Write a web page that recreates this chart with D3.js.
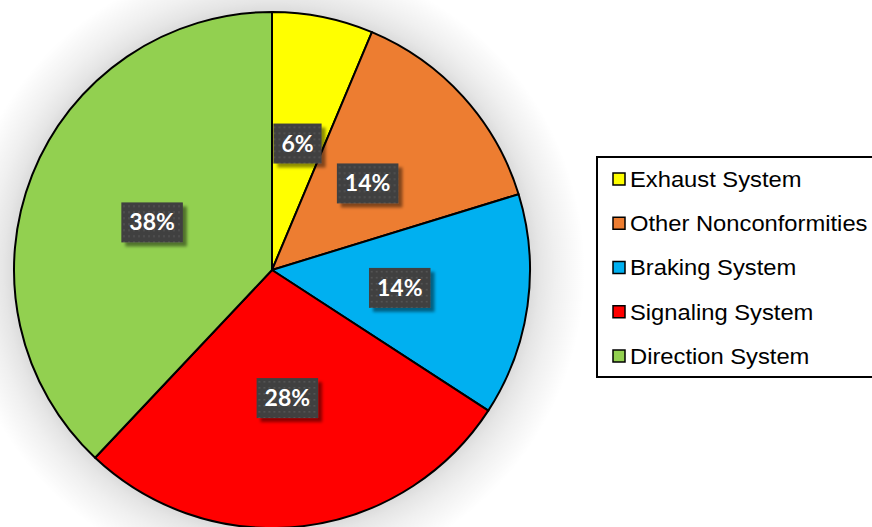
<!DOCTYPE html>
<html>
<head>
<meta charset="utf-8">
<script src="https://cdn.jsdelivr.net/npm/d3@7"></script>
<style>
  html, body { margin: 0; padding: 0; background: #fff; }
  svg { display: block; }
</style>
</head>
<body>
<svg id="chart" width="872" height="527"></svg>
<script>
// Nonconformity counts by vehicle system
const categories = ["Exhaust System", "Other Nonconformities", "Braking System", "Signaling System", "Direction System"];
const counts = [5, 11, 11, 22, 30];
const colors = ["#FFFF00", "#ED7D31", "#00B0F0", "#FF0000", "#92D050"];

const W = 872, H = 527;
const cx = 272, cy = 270, R = 258;
const haloR = R + 55;

const svg = d3.select("#chart");
const defs = svg.append("defs");

// soft halo behind the pie, as a radial fade
const grad = defs.append("radialGradient").attr("id", "haloGrad")
  .attr("gradientUnits", "userSpaceOnUse")
  .attr("cx", 0).attr("cy", 0).attr("r", haloR);
[
  [0, 0.15], [(R - 2) / haloR, 0.15], [(R + 10) / haloR, 0.1],
  [(R + 25) / haloR, 0.06], [(R + 40) / haloR, 0.03], [1, 0]
].forEach(([o, a]) => grad.append("stop")
  .attr("offset", o).attr("stop-color", "#000").attr("stop-opacity", a));

// drop shadow for the value boxes
const boxShadow = defs.append("filter").attr("id", "boxShadow")
  .attr("x", "-30%").attr("y", "-30%").attr("width", "160%").attr("height", "160%");
boxShadow.append("feDropShadow").attr("dx", 4).attr("dy", 4)
  .attr("stdDeviation", 1.5).attr("flood-color", "#000").attr("flood-opacity", 0.45);

// dotted texture for the value boxes
const pat = defs.append("pattern").attr("id", "dots")
  .attr("patternUnits", "userSpaceOnUse").attr("width", 5).attr("height", 6);
pat.append("rect").attr("width", 5).attr("height", 6).attr("fill", "#404040");
pat.append("rect").attr("x", 1).attr("y", 1).attr("width", 2).attr("height", 1.5).attr("fill", "#545454");

const total = d3.sum(counts);
const data = categories.map((c, i) => ({ name: c, value: counts[i], color: colors[i] }));

const pie = d3.pie().value(d => d.value).sort(null);
const arcs = pie(data);
const arc = d3.arc().innerRadius(0).outerRadius(R);
const labelArc = d3.arc().innerRadius(R * 0.5).outerRadius(R * 0.5);

const g = svg.append("g").attr("transform", `translate(${cx},${cy})`);

g.append("circle").attr("r", haloR).attr("fill", "url(#haloGrad)");

g.selectAll("path.slice").data(arcs).join("path")
  .attr("class", "slice")
  .attr("d", arc)
  .attr("fill", d => d.data.color)
  .attr("stroke", "#000")
  .attr("stroke-width", 2)
  .attr("stroke-linejoin", "round");

// value labels
const fmt = v => Math.round(v / total * 100) + "%";
const labels = g.selectAll("g.lbl").data(arcs).join("g")
  .attr("class", "lbl")
  .attr("transform", d => `translate(${labelArc.centroid(d)})`);

labels.each(function (d) {
  const sel = d3.select(this);
  const rect = sel.append("rect").attr("fill", "url(#dots)").attr("filter", "url(#boxShadow)");
  const t = sel.append("text")
    .attr("text-anchor", "middle")
    .attr("dy", "0.35em")
    .attr("fill", "#fff")
    .attr("font-family", "Lato, 'Open Sans', sans-serif")
    .attr("font-weight", "bold")
    .attr("font-size", 23)
    .text(fmt(d.data.value));
  const bb = t.node().getBBox();
  const w = bb.width + 16, h = 40;
  rect.attr("x", -w / 2).attr("y", -h / 2).attr("width", w).attr("height", h);
});

// legend
const lg = svg.append("g");
lg.append("rect").attr("x", 597).attr("y", 157).attr("width", 276).attr("height", 220)
  .attr("fill", "#fff").attr("stroke", "#000").attr("stroke-width", 2);

const ly = d3.scalePoint().domain(categories).range([179, 356]);
const items = lg.selectAll("g.item").data(data).join("g")
  .attr("class", "item")
  .attr("transform", d => `translate(0,${ly(d.name)})`);
items.append("rect").attr("x", 613).attr("y", -6).attr("width", 12).attr("height", 12)
  .attr("fill", d => d.color).attr("stroke", "#000").attr("stroke-width", 1.5);
items.append("text")
  .attr("transform", "translate(630,0) scale(1.08,1)")
  .attr("dy", "0.36em")
  .attr("font-family", "'Liberation Sans', Arial, sans-serif")
  .attr("font-size", 22).attr("fill", "#000")
  .text(d => d.name);
</script>
</body>
</html>
